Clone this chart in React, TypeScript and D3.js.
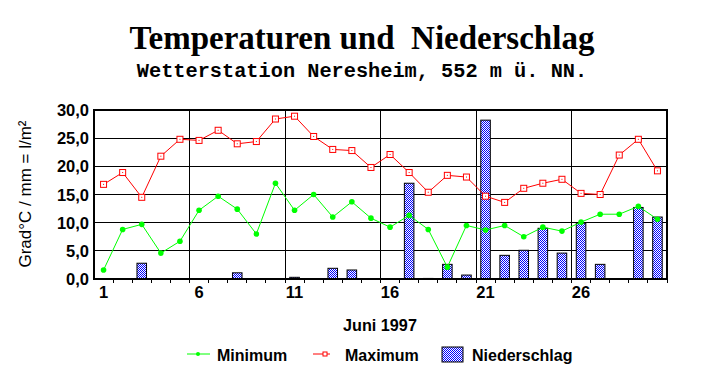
import React from "react";
import * as d3 from "d3";

const days = d3.range(1, 31);
const minTemp = [1.6, 8.8, 9.7, 4.6, 6.7, 12.2, 14.7, 12.4, 8.0, 17.0, 12.2, 15.0, 11.0, 13.7, 10.8, 9.2, 11.3, 8.8, 2.1, 9.5, 8.7, 9.5, 7.5, 9.2, 8.5, 10.1, 11.5, 11.5, 12.9, 10.6];
const maxTemp = [16.8, 18.9, 14.5, 21.8, 24.8, 24.6, 26.4, 24.0, 24.4, 28.4, 28.9, 25.3, 23.0, 22.8, 19.8, 22.1, 18.9, 15.4, 18.4, 18.1, 14.7, 13.6, 16.1, 17.0, 17.7, 15.2, 15.0, 22.0, 24.8, 19.2];
const precip = [0, 0, 2.8, 0, 0, 0, 0, 1.1, 0, 0, 0.3, 0, 1.9, 1.6, 0, 0, 17.0, 0.1, 2.6, 0.7, 28.2, 4.2, 5.1, 9.0, 4.6, 9.9, 2.6, 0, 12.7, 11.0];
const yTicks = [0, 5, 10, 15, 20, 25, 30];
const xLabelDays = [1, 6, 11, 16, 21, 26];

const W = 725, H = 384;
const L = 94, R = 667, T = 110, B = 279;

export default function App() {
  const x = d3.scaleBand<number>().domain(days).range([L, R]).padding(0);
  const y = d3.scaleLinear().domain([0, 30]).range([B, T]);
  const bw = x.bandwidth();
  const cx = (d: number) => (x(d) as number) + bw / 2;
  const fmt = (v: number) => d3.format(".1f")(v).replace(".", ",");
  const lineMin = d3.line<number>().x((_, i) => cx(days[i])).y((v) => y(v));
  const lineMax = d3.line<number>().x((_, i) => cx(days[i])).y((v) => y(v));
  const sans = "Arial, 'Liberation Sans', sans-serif";

  return (
    <svg width={W} height={H} style={{ position: "absolute", left: 0, top: 0, background: "#fff" }}>
      <defs>
        <pattern id="dots" width={2} height={2} patternUnits="userSpaceOnUse">
          <rect width={2} height={2} fill="#fff" />
          <rect x={0} y={0} width={1} height={1} fill="#0000ff" />
          <rect x={1} y={1} width={1} height={1} fill="#0000ff" />
        </pattern>
      </defs>
      <rect width={W} height={H} fill="#fff" />
      <text x={362} y={49} textAnchor="middle" fontFamily="'Times New Roman', 'Liberation Serif', serif" fontWeight="bold" fontSize={33} style={{ whiteSpace: "pre" }}>
        {"Temperaturen und  Niederschlag"}
      </text>
      <text x={362} y={77} textAnchor="middle" fontFamily="'Courier New', 'Liberation Mono', monospace" fontWeight="bold" fontSize={20.3}>
        Wetterstation Neresheim, 552 m ü. NN.
      </text>

      {/* horizontal gridlines */}
      {yTicks.slice(1).map((t) => (
        <line key={"h" + t} x1={L} x2={R} y1={y(t)} y2={y(t)} stroke="#000" strokeWidth={1} shapeRendering="crispEdges" />
      ))}
      {/* vertical gridlines */}
      {xLabelDays.slice(1).map((d) => (
        <line key={"v" + d} x1={x(d)} x2={x(d)} y1={T} y2={B} stroke="#000" strokeWidth={1} shapeRendering="crispEdges" />
      ))}
      {/* bottom ticks */}
      {days.map((d) => (
        <line key={"t" + d} x1={(x(d) as number) + bw} x2={(x(d) as number) + bw} y1={B} y2={B + 4} stroke="#000" strokeWidth={1} shapeRendering="crispEdges" />
      ))}

      {/* bars */}
      {days.map((d, i) =>
        precip[i] > 0 ? (
          <rect key={"b" + d} x={cx(d) - bw * 0.25} width={bw * 0.5} y={y(precip[i])} height={B - y(precip[i])} fill="url(#dots)" stroke="#000" strokeWidth={1} />
        ) : null
      )}

      {/* frame */}
      <rect x={L} y={T} width={R - L} height={B - T} fill="none" stroke="#000" strokeWidth={2} shapeRendering="crispEdges" />

      {/* lines */}
      <path d={lineMin(minTemp) || ""} fill="none" stroke="#00ff00" strokeWidth={1} />
      <path d={lineMax(maxTemp) || ""} fill="none" stroke="#ff0000" strokeWidth={1} />
      {minTemp.map((v, i) => (
        <circle key={"mc" + i} cx={cx(days[i])} cy={y(v)} r={2.8} fill="#00ff00" />
      ))}
      {maxTemp.map((v, i) => (
        <g key={"mx" + i}>
          <rect x={cx(days[i]) - 3} y={y(v) - 3} width={6} height={6} fill="#fff" stroke="#ff0000" strokeWidth={1} />
          <rect x={cx(days[i]) - 0.5} y={y(v) - 0.5} width={1} height={1} fill="#ff0000" />
        </g>
      ))}

      {/* y tick labels */}
      {yTicks.map((t) => (
        <text key={"yl" + t} x={89} y={y(t) + 6} textAnchor="end" fontFamily={sans} fontWeight="bold" fontSize={16.5}>
          {fmt(t)}
        </text>
      ))}
      {/* x tick labels */}
      {xLabelDays.map((d) => (
        <text key={"xl" + d} x={cx(d)} y={298} textAnchor="middle" fontFamily={sans} fontWeight="bold" fontSize={16.5}>
          {d}
        </text>
      ))}
      <text transform={`translate(31,194) rotate(-90)`} textAnchor="middle" fontFamily={sans} fontSize={17}>
        Grad°C / mm = l/m²
      </text>
      <text x={380} y={331} textAnchor="middle" fontFamily={sans} fontWeight="bold" fontSize={16.2}>
        Juni 1997
      </text>

      {/* legend */}
      <line x1={187} x2={210} y1={354} y2={354} stroke="#00ff00" strokeWidth={1} />
      <circle cx={198} cy={354} r={2} fill="#00ff00" />
      <text x={217} y={361} fontFamily={sans} fontWeight="bold" fontSize={16}>Minimum</text>
      <line x1={313} x2={330} y1={354} y2={354} stroke="#ff0000" strokeWidth={1} />
      <rect x={323} y={352} width={4} height={4} fill="#fff" stroke="#ff0000" strokeWidth={1} />
      <text x={345} y={361} fontFamily={sans} fontWeight="bold" fontSize={16}>Maximum</text>
      <rect x={442} y={347} width={21} height={15} fill="url(#dots)" stroke="#000" strokeWidth={1} />
      <text x={472} y={361} fontFamily={sans} fontWeight="bold" fontSize={16}>Niederschlag</text>
    </svg>
  );
}
